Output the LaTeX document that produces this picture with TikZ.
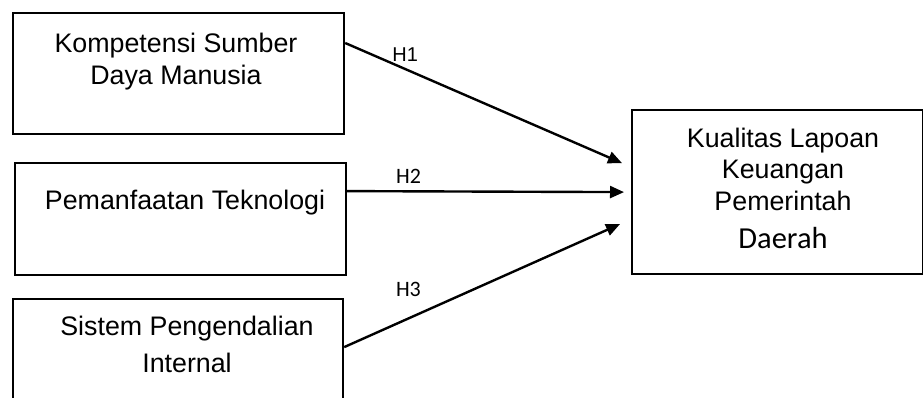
\documentclass[tikz,border=0pt]{standalone}
\usepackage{fontspec}
\setmainfont{Liberation Sans}
\newfontfamily\calib{Carlito}
\usetikzlibrary{arrows.meta}

\begin{document}
\begin{tikzpicture}[x=1pt, y=-1pt,
    varbox/.style={draw, line width=2.2pt, inner sep=0pt, anchor=north west},
    boxtext/.style={inner sep=0pt, align=center, font=\fontsize{26.8}{32}\selectfont},
    hyp/.style={-{Triangle[length=14pt, width=12pt]}, line width=2.4pt},
    hlabel/.style={inner sep=0pt, font=\calib\fontsize{22}{26}\selectfont}]
  \useasboundingbox (0,0) rectangle (923,398);

  % ── Independent variables ──
  \node[varbox, minimum width=331pt, minimum height=121pt] (kompetensi) at (12,12) {};
  \node[boxtext] (kompetensi-text) at (176,62) {Kompetensi Sumber\\Daya Manusia};

  \node[varbox, minimum width=331pt, minimum height=112pt] (pemanfaatan) at (14,162) {};
  \node[boxtext] (pemanfaatan-text) at (185,203) {Pemanfaatan Teknologi};

  \node[varbox, minimum width=330pt, minimum height=101pt] (sistem) at (12,298) {};
  \node[boxtext, font=\fontsize{26.8}{37}\selectfont] (sistem-text) at (187,344)
    {Sistem Pengendalian\\Internal};

  % ── Dependent variable ──
  \node[varbox, minimum width=291pt, minimum height=164pt] (kualitas) at (631,109) {};
  \node[boxtext, font=\fontsize{26.8}{31.5}\selectfont] (kualitas-text) at (783,188)
    {Kualitas Lapoan\\Keuangan\\Pemerintah\\[6.5pt]{\calib\fontsize{30.5}{36}\selectfont Daerah}};

  % ── Hypotheses ──
  \draw[hyp] ([yshift=-31pt]kompetensi.north east) -- ([xshift=-9pt, yshift=29pt]kualitas.west)
    node[hlabel, pos=.217, above=6.8pt, font=\fontsize{20}{24}\selectfont] (h1) {H1};
  \draw[hyp] ([yshift=28pt]pemanfaatan.east) -- ([xshift=-7pt]kualitas.west)
    node[hlabel, pos=.222, above=6.2pt] (h2) {H2};
  \draw[hyp] ([yshift=2.5pt]sistem.east) -- ([xshift=-11pt, yshift=-32pt]kualitas.west)
    node[hlabel, pos=.233, above=20.7pt] (h3) {H3};
\end{tikzpicture}
\end{document}
